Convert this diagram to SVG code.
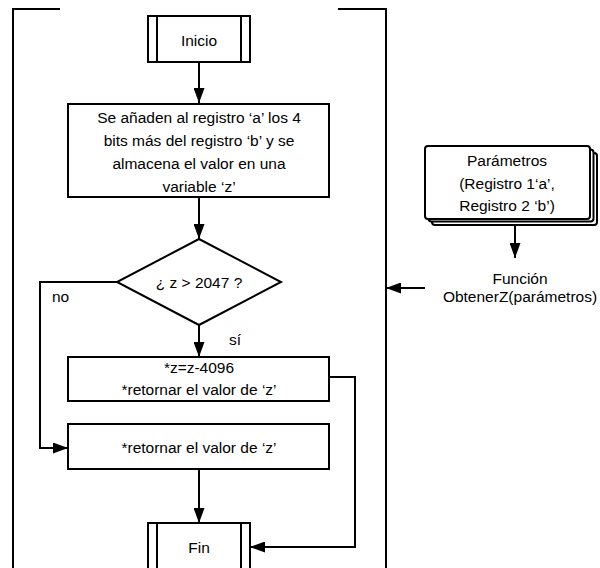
<svg xmlns="http://www.w3.org/2000/svg" width="600" height="568" viewBox="0 0 600 568">
  <style>
    .box { fill: #fff; stroke: #000; stroke-width: 2; }
    .ln { fill: none; stroke: #000; stroke-width: 2; }
    .t { font-family: "Liberation Sans", Arial, sans-serif; font-size: 15.5px; fill: #000; text-anchor: middle; dominant-baseline: central; }
    .tl { font-family: "Liberation Sans", Arial, sans-serif; font-size: 15.5px; fill: #000; dominant-baseline: central; }
  </style>
  <defs>
    <marker id="arrow" viewBox="0 0 15 11" refX="15" refY="5.5" markerWidth="7.5" markerHeight="5.5" markerUnits="strokeWidth" orient="auto">
      <path d="M0,0 L15,5.5 L0,11 Z" fill="#000"/>
    </marker>
  </defs>
  <rect width="600" height="568" fill="#fff"/>

  <!-- function scope bracket -->
  <g id="scope">
    <path class="ln" d="M60,9 H13 V570"/>
    <path class="ln" d="M338,9 H386 V570"/>
  </g>

  <g id="connectors">
    <line class="ln" x1="199" y1="62" x2="199" y2="103" marker-end="url(#arrow)"/>
    <line class="ln" x1="199" y1="197" x2="199" y2="239" marker-end="url(#arrow)"/>
    <line class="ln" x1="199" y1="325" x2="199" y2="357" marker-end="url(#arrow)"/>
    <path class="ln" d="M117,282 H40 V448 H68" marker-end="url(#arrow)"/>
    <path class="ln" d="M329,377 H355 V547 H250" marker-end="url(#arrow)"/>
    <line class="ln" x1="199" y1="469" x2="199" y2="523" marker-end="url(#arrow)"/>
    <line class="ln" x1="425" y1="288" x2="386" y2="288" marker-end="url(#arrow)"/>
    <line class="ln" x1="515" y1="225" x2="515" y2="258" marker-end="url(#arrow)"/>
    <text class="tl" x="52" y="296">no</text>
    <text class="tl" x="229" y="339">sí</text>
  </g>

  <g id="inicio">
    <rect class="box" x="148" y="16" width="102" height="46"/>
    <line class="ln" x1="157" y1="16" x2="157" y2="62"/>
    <line class="ln" x1="241" y1="16" x2="241" y2="62"/>
    <text class="t" x="199" y="40">Inicio</text>
  </g>

  <g id="concat">
    <rect class="box" x="68" y="104" width="261" height="93"/>
    <text class="t" x="199" y="117">Se añaden al registro ‘a’ los 4</text>
    <text class="t" x="199" y="140">bits más del registro ‘b’ y se</text>
    <text class="t" x="199" y="163">almacena el valor en una</text>
    <text class="t" x="199" y="186">variable ‘z’</text>
  </g>

  <g id="decision">
    <polygon class="box" points="199,239 281,282 199,325 117,282"/>
    <text class="t" x="199" y="282">¿ z &gt; 2047 ?</text>
  </g>

  <g id="ajuste">
    <rect class="box" x="68" y="357" width="261" height="44"/>
    <text class="t" x="199" y="367">*z=z-4096</text>
    <text class="t" x="199" y="389">*retornar el valor de ‘z’</text>
  </g>

  <g id="retorno">
    <rect class="box" x="68" y="424" width="261" height="45"/>
    <text class="t" x="199" y="447">*retornar el valor de ‘z’</text>
  </g>

  <g id="fin">
    <rect class="box" x="148" y="523" width="102" height="50"/>
    <line class="ln" x1="157" y1="523" x2="157" y2="573"/>
    <line class="ln" x1="241" y1="523" x2="241" y2="573"/>
    <text class="t" x="199" y="547">Fin</text>
  </g>

  <g id="parametros">
    <rect class="box" x="432" y="153" width="165" height="72" rx="3"/>
    <rect class="box" x="428.5" y="149.5" width="165" height="72" rx="3"/>
    <rect class="box" x="425" y="146" width="165" height="73" rx="3"/>
    <text class="t" x="507" y="160">Parámetros</text>
    <text class="t" x="507" y="183">(Registro 1‘a’,</text>
    <text class="t" x="507" y="205">Registro 2 ‘b’)</text>
  </g>

  <g id="funcion">
    <text class="t" x="520" y="278">Función</text>
    <text class="t" x="520" y="296">ObtenerZ(parámetros)</text>
  </g>
</svg>
